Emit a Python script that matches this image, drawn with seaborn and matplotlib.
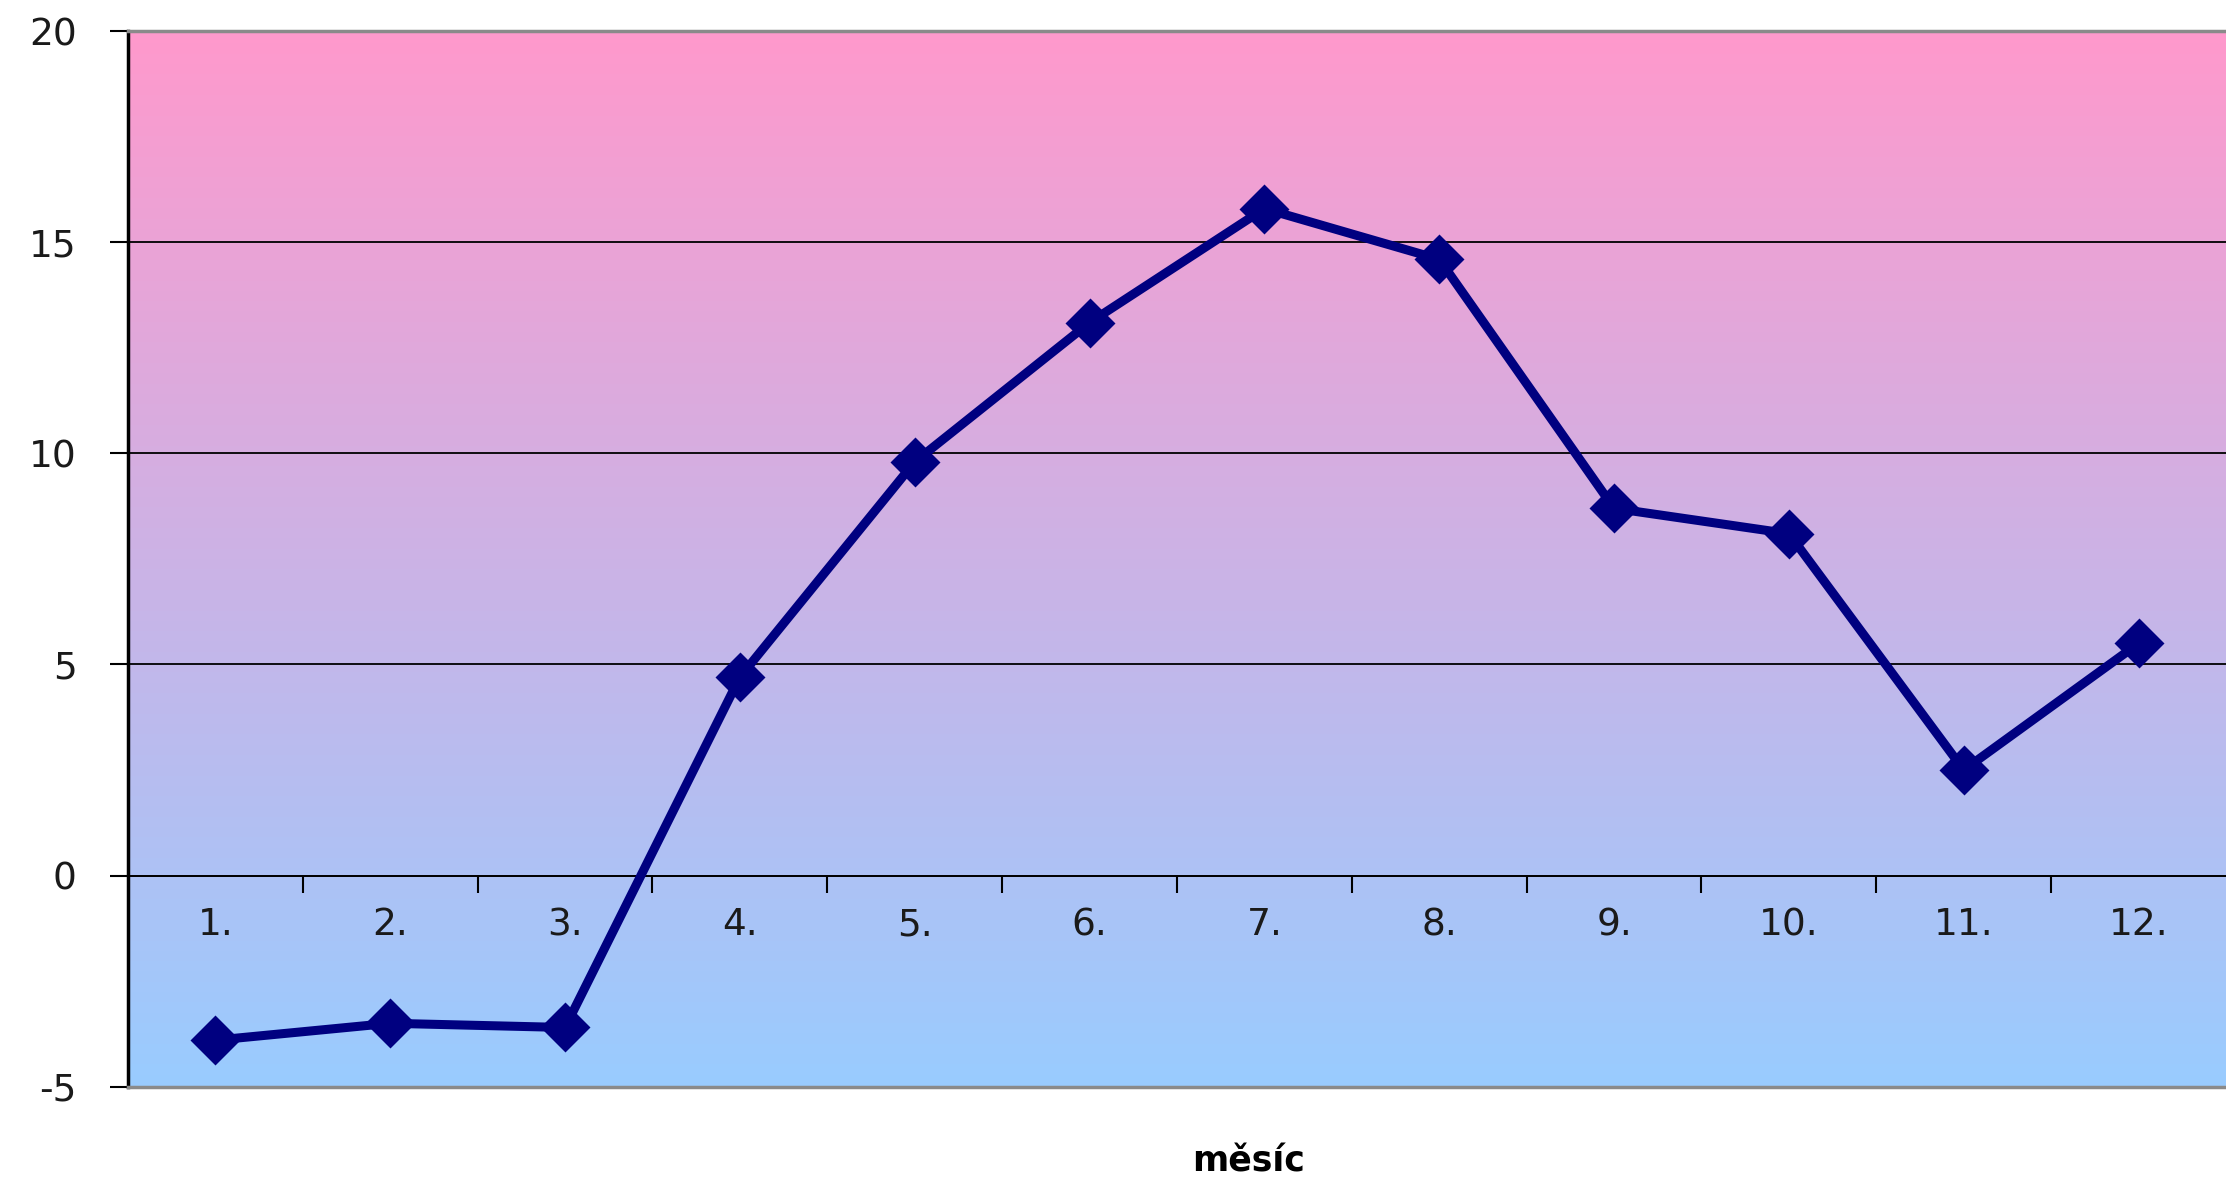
import numpy as np
import matplotlib
matplotlib.use("Agg")
import matplotlib.pyplot as plt
import matplotlib.colors as mcolors
import seaborn as sns
import pandas as pd

# ---- data ----
months = ["1.", "2.", "3.", "4.", "5.", "6.", "7.", "8.", "9.", "10.", "11.", "12."]
temps = [-3.9, -3.5, -3.6, 4.7, 9.8, 13.1, 15.8, 14.6, 8.7, 8.1, 2.5, 5.5]
y_ticks = [-5, 0, 5, 10, 15, 20]
x_label = "měsíc"

sns.set_theme(style="white")
plt.rcParams["font.family"] = ["DejaVu Sans"]
plt.rcParams["axes.unicode_minus"] = False

df = pd.DataFrame({"month": months, "temp": temps})

fig = plt.figure(figsize=(22.26, 11.83), dpi=100)
ax = fig.add_axes([0.0575, 0.0815, 1 - 0.0575, 0.9735 - 0.0815])

# gradient background (pink top -> light blue bottom)
top_c = np.array(mcolors.to_rgb("#FF99CC"))
bot_c = np.array(mcolors.to_rgb("#99CCFF"))
t = np.linspace(0, 1, 256)[:, None]
grad = (top_c[None, :] * (1 - t) + bot_c[None, :] * t)[:, None, :]
ax.imshow(grad, extent=[0, 1, 0, 1], transform=ax.transAxes, aspect="auto",
          zorder=0, interpolation="bilinear")

sns.pointplot(data=df, x="month", y="temp", order=months, errorbar=None,
              color="#000080", markers="D", linestyles="-", ax=ax)
for ln in ax.lines:
    ln.set_linewidth(6.5)
    ln.set_markersize(23)
    ln.set_zorder(3)

ymin, ymax = min(y_ticks), max(y_ticks)
ax.set_ylim(ymin, ymax)
ax.set_xlim(-0.5, len(months) - 0.5)
ax.set_yticks(y_ticks)
ax.set_yticklabels([str(v) for v in y_ticks])
ax.yaxis.grid(True, color="black", linewidth=1.3)
ax.xaxis.grid(False)
ax.set_axisbelow(True)
ax.tick_params(axis="y", left=True, length=13, width=1.5, pad=24,
               labelsize=27, labelcolor="#1a1a1a", color="black")
ax.tick_params(axis="x", bottom=False, labelbottom=False)
ax.set_xlabel("")
ax.set_ylabel("")

ax.spines["right"].set_visible(False)
ax.spines["left"].set_color("black")
ax.spines["left"].set_linewidth(2.5)
ax.spines["top"].set_color("#8a8a8a")
ax.spines["top"].set_linewidth(2.5)
ax.spines["bottom"].set_color("#8a8a8a")
ax.spines["bottom"].set_linewidth(2.5)

# category axis sitting on the zero line
zero_frac = (0 - ymin) / (ymax - ymin)
secax = ax.secondary_xaxis(zero_frac)
secax.set_zorder(1)
secax.set_xticks(range(len(months)), labels=months)
secax.set_xticks(np.arange(0.5, len(months) - 0.5, 1.0), minor=True)
secax.tick_params(which="major", length=0, pad=23, labelsize=27, labelcolor="#1a1a1a")
secax.tick_params(which="minor", length=12.5, width=1.5, direction="out", color="black")
secax.spines["bottom"].set_color("black")
secax.spines["bottom"].set_linewidth(1.3)

fig.text(1249 / 2226, 1 - 1162 / 1183, x_label, ha="center", va="center",
         fontsize=25, fontweight="bold", color="black")

fig.savefig("out.png", dpi=100, facecolor="white")
